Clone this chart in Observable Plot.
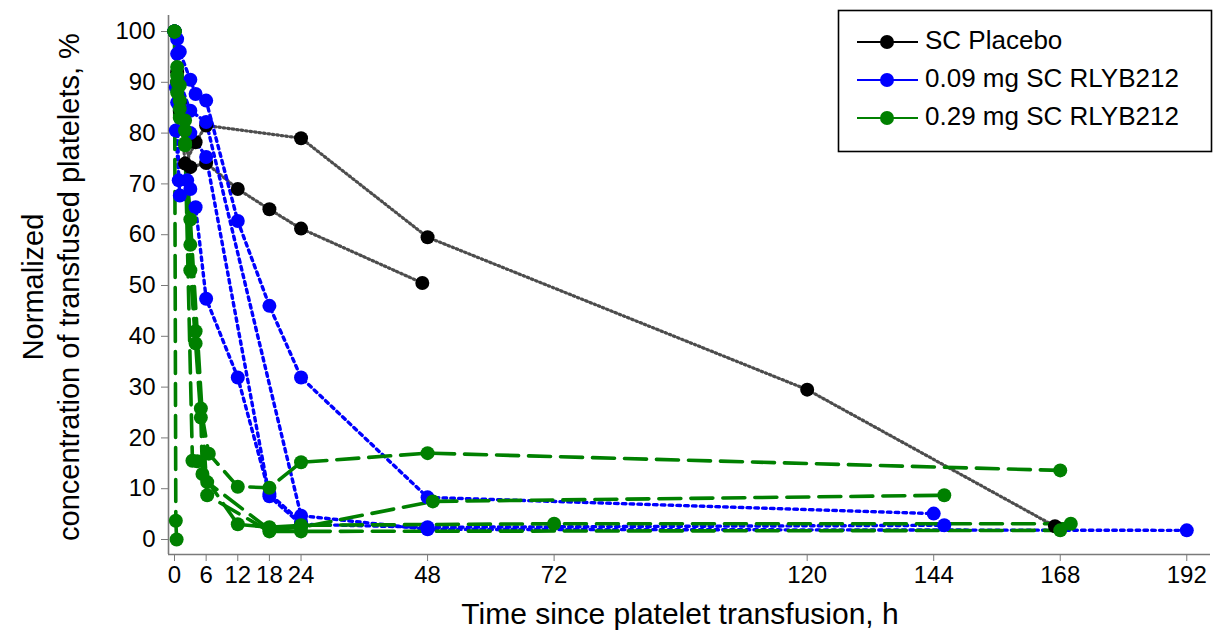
<!DOCTYPE html>
<html><head><meta charset="utf-8">
<script src="https://cdn.jsdelivr.net/npm/d3@7"></script>
<script src="https://cdn.jsdelivr.net/npm/@observablehq/plot@0.6"></script>
<style>body{margin:0;background:#fff}</style>
</head><body><div id="chart"></div>
<script>
// ---- data ----
const groups = ["SC Placebo", "0.09 mg SC RLYB212", "0.29 mg SC RLYB212"];
const groupColors = ["#000000", "#0000ff", "#008000"];
const xTicks = [0, 6, 12, 18, 24, 48, 72, 120, 144, 168, 192];
const yTicks = [0, 10, 20, 30, 40, 50, 60, 70, 80, 90, 100];
const xTitle = "Time since platelet transfusion, h";
const yTitle1 = "Normalized";
const yTitle2 = "concentration of transfused platelets, %";

// [time h, normalized %] per subject
const placebo = [
  [[0,100],[0.5,92],[1,86],[2,74],[4,78.2],[6,81.5],[24,79],[48,59.5],[120,29.5],[167,2.6]],
  [[0,100],[0.5,90],[1,84.4],[3,73.3],[6,74.1],[12,69],[18,65],[24,61.2],[47,50.5]]
];
const dose009 = [
  [[0,100],[0.5,98.5],[1,96],[3,90.5],[4,87.7],[6,86.4],[12,62.7],[18,46],[24,31.9],[48,8.3],[144,5.1]],
  [[0,100],[0.5,95.6],[1,90],[3,84.4],[6,82.2],[24,4.7],[48,2],[192,1.8]],
  [[0,100],[0.25,89],[1,85],[3,80],[6,75.3],[18,8.5],[24,3],[48,2.4],[146,2.8]],
  [[0,100],[0.25,80.5],[1,67.7],[4,65.4],[6,47.4],[12,31.9],[18,9],[24,3.5]],
  [[0,100],[0.5,86],[0.8,70.7],[2.4,70.7],[3,69]]
];
const dose029 = [
  [[0,100],[0.5,93],[1,89.4],[2,82.5],[3,58],[4,41],[5,25.8],[6.5,16.9],[12,10.4],[18,10.2],[24,15.2],[48,17],[168,13.6]],
  [[0,100],[0.5,91.3],[1,86.4],[2,80.5],[3,53],[4,38.6],[5,24],[5.3,12.9],[12,3],[18,2.4],[24,2.8],[72,3.1],[170,3.1]],
  [[0,100],[0.5,90],[1,84.8],[2,78],[3.4,15.5],[4.3,15.4],[6.2,11.3],[18,2],[24,2.4],[49,7.5],[146,8.7]],
  [[0,100],[0.5,88],[1,83],[2,77.6],[3,63],[6.2,8.7],[18,1.6],[24,1.6],[168,1.8]],
  [[0,100],[0.25,3.7],[0.4,0]]
];

// ---- build table ----
const rows = [];
[placebo, dose009, dose029].forEach((subs, g) => {
  subs.forEach((s, i) => s.forEach(([t, v]) => rows.push({group: groups[g], id: g + "-" + i, t, v})));
});
const byGroup = g => rows.filter(d => d.group === groups[g]);

const xDomain = [-1.14, 196.5];
const yDomain = [-2.95, 103.15];
const font = "'Liberation Sans', Arial, sans-serif";

const lineStyles = [
  {stroke: "#4d4d4d", strokeWidth: 3.2, strokeDasharray: "1.5,3"},
  {stroke: groupColors[1], strokeWidth: 3.4, strokeDasharray: "3.6,4.2"},
  {stroke: groupColors[2], strokeWidth: 3.6, strokeDasharray: "22,10"}
];

const marks = [];
[0, 1, 2].forEach(g => {
  marks.push(Plot.line(byGroup(g), {x: "t", y: "v", z: "id", ...lineStyles[g]}));
});
[0, 1, 2].forEach(g => {
  marks.push(Plot.dot(byGroup(g), {x: "t", y: "v", r: 7, fill: groupColors[g], stroke: "none"}));
});

const plot = Plot.plot({
  width: 1217, height: 636,
  marginLeft: 168, marginRight: 7, marginTop: 15, marginBottom: 82,
  style: {fontFamily: font, fontSize: "24px", background: "#fff", overflow: "visible"},
  x: {domain: xDomain},
  y: {domain: yDomain},
  marks: [
    Plot.ruleX([xDomain[0]], {stroke: "#7a7a7a", strokeWidth: 1.6}),
    Plot.ruleY([yDomain[0]], {stroke: "#7a7a7a", strokeWidth: 1.6}),
    Plot.axisX(xTicks, {tickSize: 7, tickPadding: 4, stroke: "#7a7a7a", fill: "#000", fontSize: 24, label: null}),
    Plot.axisY(yTicks, {tickSize: 7, tickPadding: 6, stroke: "#7a7a7a", fill: "#000", fontSize: 24, label: null}),
    ...marks
  ]
});
document.getElementById("chart").appendChild(plot);

// ---- titles & legend ----
const svg = d3.select(plot);
svg.append("text").attr("x", 680).attr("y", 616).attr("text-anchor", "middle")
  .attr("dominant-baseline", "middle").attr("font-size", 30).attr("font-family", font).text(xTitle);
svg.append("text").attr("transform", "translate(35,287) rotate(-90)").attr("text-anchor", "middle")
  .attr("dominant-baseline", "middle").attr("font-size", 29).attr("font-family", font).text(yTitle1);
svg.append("text").attr("transform", "translate(71,287) rotate(-90)").attr("text-anchor", "middle")
  .attr("dominant-baseline", "middle").attr("font-size", 29).attr("font-family", font).text(yTitle2);

const lg = svg.append("g");
lg.append("rect").attr("x", 838.5).attr("y", 10.5).attr("width", 373).attr("height", 141)
  .attr("fill", "#fff").attr("stroke", "#000").attr("stroke-width", 1.6);
groups.forEach((name, i) => {
  const y = 42 + i * 38;
  lg.append("line").attr("x1", 857).attr("x2", 918).attr("y1", y).attr("y2", y)
    .attr("stroke", groupColors[i]).attr("stroke-width", 2);
  lg.append("circle").attr("cx", 887).attr("cy", y).attr("r", 7).attr("fill", groupColors[i]);
  lg.append("text").attr("x", 925).attr("y", y).attr("text-anchor", "start").attr("dominant-baseline", "middle")
    .attr("font-size", 26).attr("font-family", font).text(name);
});
</script>
</body></html>
